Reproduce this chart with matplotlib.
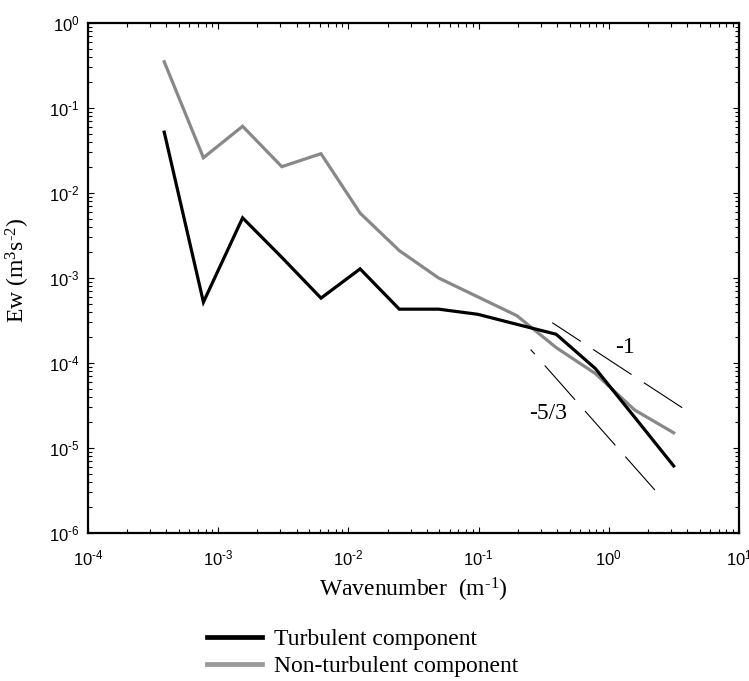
import matplotlib
matplotlib.use("Agg")
import matplotlib.pyplot as plt
from matplotlib.lines import Line2D
from matplotlib.ticker import LogLocator, FuncFormatter, NullFormatter
import numpy as np

# ---- data ----
wavenumber = [3.85e-4, 7.7e-4, 1.54e-3, 3.08e-3, 6.16e-3, 1.23e-2, 2.46e-2,
              4.93e-2, 9.86e-2, 0.197, 0.394, 0.789, 1.58, 3.15]
turbulent = [5.2e-2, 5.2e-4, 5.1e-3, 1.75e-3, 5.8e-4, 1.28e-3, 4.3e-4,
             4.3e-4, 3.74e-4, 2.85e-4, 2.18e-4, 8.6e-5, 2.3e-5, 6.15e-6]
non_turbulent = [0.35, 2.6e-2, 6.1e-2, 2.04e-2, 2.9e-2, 5.8e-3, 2.1e-3,
                 1.0e-3, 6.0e-4, 3.6e-4, 1.52e-4, 7.5e-5, 2.8e-5, 1.51e-5]
ref1_x = [0.368, 3.67]
ref1_y = [2.98e-4, 2.97e-5]
ref53_x = [0.251, 2.26]
ref53_y = [1.44e-4, 3.2e-6]
labels = ["Turbulent component", "Non-turbulent component"]

plt.rcParams['lines.scale_dashes'] = False
SERIF = 'Liberation Serif'
SANS = 'Liberation Sans'
HY = '\u2010'

fig = plt.figure(figsize=(7.49, 6.81), dpi=100)
ax = fig.add_axes([88/749, 1-533/681, (739-88)/749, (533-23)/681])

ax.plot(wavenumber, non_turbulent, color='#888888', lw=2.3, solid_joinstyle='miter')
ax.plot(wavenumber, turbulent, color='black', lw=2.3, solid_joinstyle='miter')

ax.plot(ref1_x, ref1_y, color='black', lw=0.8, linestyle=(8.4, (33.0, 10.6)))
ax.plot(ref53_x, ref53_y, color='black', lw=0.8, linestyle=(28.5, (33.0, 10.8)))

ax.text(1.34, 1.51e-4, "-1", family=SERIF, fontsize=17, ha='center', va='center')
ax.text(0.344, 2.58e-5, "-5/3", family=SERIF, fontsize=17, ha='center', va='center')

ax.set_xscale('log')
ax.set_yscale('log')
ax.set_xlim(1e-4, 1e1)
ax.set_ylim(1e-6, 1e0)

ax.xaxis.set_major_locator(LogLocator(base=10, numticks=20))
ax.yaxis.set_major_locator(LogLocator(base=10, numticks=20))
ax.xaxis.set_minor_locator(LogLocator(base=10, subs=np.arange(2, 10), numticks=20))
ax.yaxis.set_minor_locator(LogLocator(base=10, subs=np.arange(2, 10), numticks=20))


def _fmt(v, p):
    e = int(round(np.log10(v)))
    s = (HY + str(-e)) if e < 0 else str(e)
    return r"$\mathregular{10^{%s}}$" % s


fmt = FuncFormatter(_fmt)
ax.xaxis.set_major_formatter(fmt)
ax.yaxis.set_major_formatter(fmt)
ax.xaxis.set_minor_formatter(NullFormatter())
ax.yaxis.set_minor_formatter(NullFormatter())

ax.tick_params(which='both', direction='in', top=True, right=True, width=0.8)
ax.tick_params(which='major', length=4.5)
ax.tick_params(which='minor', length=2.8)
ax.tick_params(axis='x', which='major', pad=11)
ax.tick_params(axis='y', which='major', pad=6)
for lab in ax.get_xticklabels() + ax.get_yticklabels():
    lab.set_family(SANS)
    lab.set_fontsize(12)
for s in ax.spines.values():
    s.set_linewidth(1.6)

ax.set_xlabel(r"Wavenumber  (m$\mathregular{^{%s1}}$)" % HY, family=SERIF, fontsize=17)
ax.set_ylabel(r"Ew (m$\mathregular{^{3}}$s$\mathregular{^{%s2}}$)" % HY, family=SERIF, fontsize=17)
ax.xaxis.label.set_va('baseline')
ax.yaxis.label.set_va('baseline')
ax.xaxis.set_label_coords(0.5, (533-597)/510)
ax.yaxis.set_label_coords((25-88)/651, (533-270)/510)

handles = [Line2D([], [], color='black', lw=3.4),
           Line2D([], [], color='#999999', lw=3.4)]
fig.legend(handles, labels, loc='center left', bbox_to_anchor=(207/749, 1-653/681),
           frameon=False, prop={'family': SERIF, 'size': 17}, borderpad=0,
           borderaxespad=0, handlelength=2.33, handletextpad=0.5, labelspacing=0.22)

fig.savefig("out.png", dpi=100)
